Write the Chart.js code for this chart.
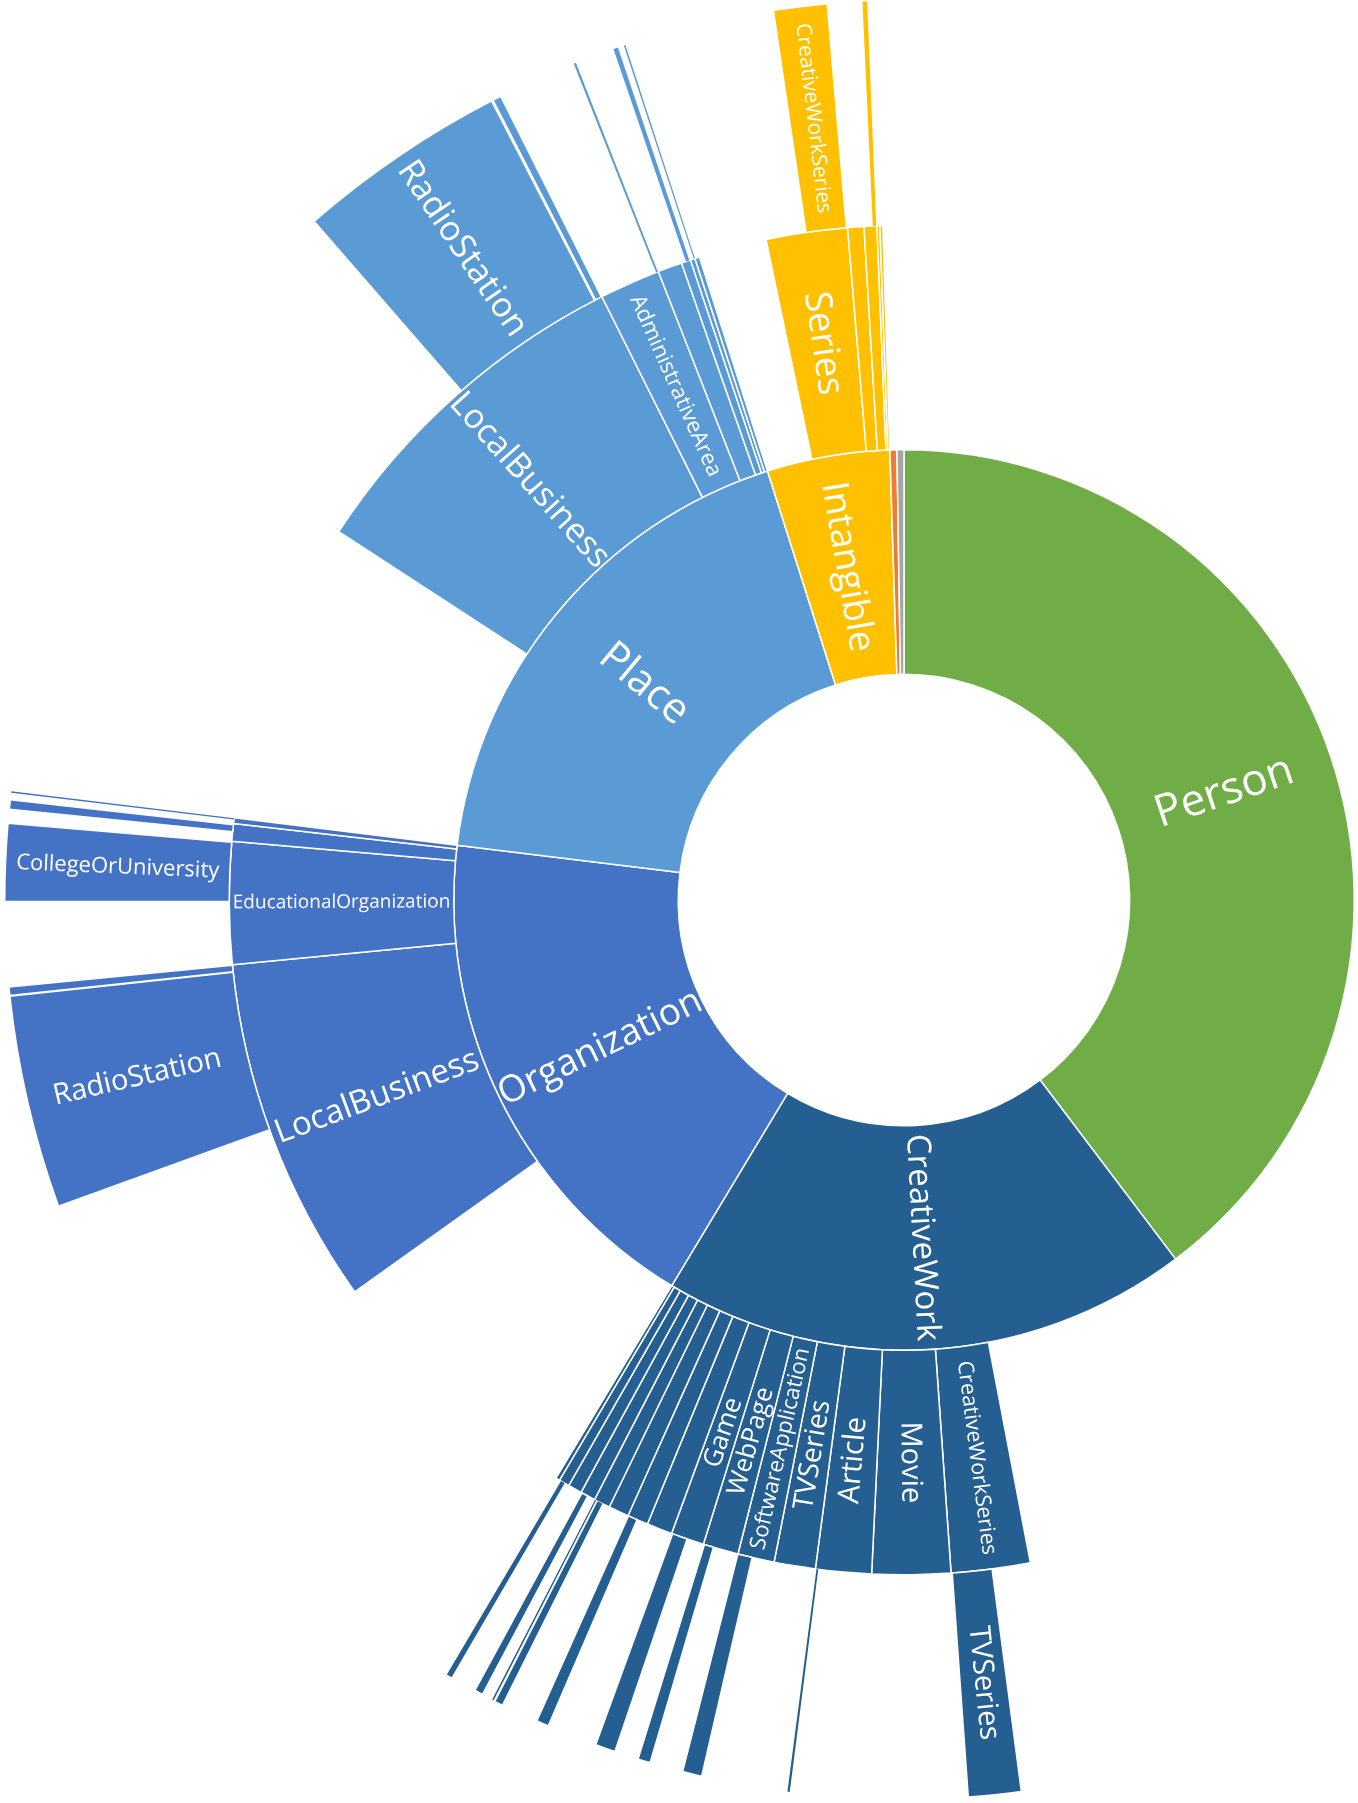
<!DOCTYPE html>
<html>
<head>
<meta charset="utf-8">
<title>Sunburst</title>
<script src="https://cdn.jsdelivr.net/npm/chart.js@4.4.1/dist/chart.umd.min.js"></script>
<style>
  html, body { margin: 0; padding: 0; background: #fff; overflow: hidden; width: 1358px; height: 1803px; }
  #chart { position: absolute; left: 4px; top: 0px; }
</style>
</head>
<body>
<canvas id="chart" width="1800" height="1800"></canvas>
<script>
// Values are the share of the circle each segment takes (read as degrees off the picture).
// null label = no child at this level (left empty), '' = a sliver too thin to carry a name.

// Inner ring
const topLabels = ['Person', 'CreativeWork', 'Organization', 'Place', 'Intangible', 'Other', 'Other'];
const topValues = [142.9, 68.15, 65.95, 65.35, 15.85, 0.9, 0.9];

// Middle ring
const midLabels = [
    null,
    null, 'CreativeWorkSeries', 'Movie', 'Article', 'TVSeries', 'SoftwareApplication', 'WebPage', 'Game', '', '', '', '', '', '', '', '',
    null, 'LocalBusiness', 'EducationalOrganization', '', '',
    null, 'LocalBusiness', 'AdministrativeArea', '', '', '', '',
    null, 'Series', '', '', '', '',
    null, null
];
const midValues = [
    142.9,
    26.3, 6.8, 6.75, 4.8, 3.55, 3.15, 3.05, 2.85, 2.2, 1.8, 1.75, 1.4, 1.3, 1.2, 0.9, 0.35,
    23.45, 30.0, 10.5, 1.5, 0.5,
    26.1, 30.3, 5.25, 2.1, 0.8, 0.4, 0.4,
    5.85, 7.0, 1.4, 1.1, 0.25, 0.25,
    0.9, 0.9
];
const midParents = [
    0,
    1, 1, 1, 1, 1, 1, 1, 1, 1, 1, 1, 1, 1, 1, 1, 1,
    2, 2, 2, 2, 2,
    3, 3, 3, 3, 3, 3, 3,
    4, 4, 4, 4, 4, 4,
    5, 6
];

// Outer ring
const outLabels = [
    null,
    null, 'TVSeries', null, '', null, '', null, '', null, '', null, '', null, '', null, '', null, '', null, '', null,
    null, 'RadioStation', null, '', null, 'CollegeOrUniversity', null, '', null, '', null,
    null, 'RadioStation', null, '', null, '', null, '', null, '', null,
    null, 'CreativeWorkSeries', null, '', null,
    null
];
const outValues = [
    142.9,
    29.6, 3.4, 11.4, 0.15, 5.55, 1.25, 2.15, 0.8, 1.55, 1.3, 3.25, 0.8, 2.45, 0.45, 0.15, 0.1, 0.7, 0.55, 1.7, 0.35, 0.5,
    39.05, 13.75, 0.05, 0.55, 5.45, 5.0, 0.9, 0.6, 0.45, 0.1, 0.05,
    42.0, 13.7, 0.1, 0.55, 5.1, 0.15, 2.55, 0.3, 0.4, 0.1, 0.4,
    9.3, 3.45, 2.25, 0.3, 0.55,
    1.8
];
const outParents = [
    0,
    1, 1, 1, 1, 1, 1, 1, 1, 1, 1, 1, 1, 1, 1, 1, 1, 1, 1, 1, 1, 1,
    2, 2, 2, 2, 2, 2, 2, 2, 2, 2, 2,
    3, 3, 3, 3, 3, 3, 3, 3, 3, 3, 3,
    4, 4, 4, 4, 4,
    5
];

const topColors = ['#70AD47', '#255E91', '#4472C4', '#5B9BD5', '#FFC000', '#ED7D31', '#A5A5A5'];

// Label font sizes (px), keyed by ring | top category | label
const labelFont = {
    '1|Person|Person': 44,
    '1|CreativeWork|CreativeWork': 33,
    '1|Organization|Organization': 37,
    '1|Place|Place': 42,
    '1|Intangible|Intangible': 37,
    '2|CreativeWork|CreativeWorkSeries': 21.5,
    '2|CreativeWork|Movie': 29,
    '2|CreativeWork|Article': 29.5,
    '2|CreativeWork|TVSeries': 28,
    '2|CreativeWork|SoftwareApplication': 22,
    '2|CreativeWork|WebPage': 25.5,
    '2|CreativeWork|Game': 26,
    '2|Organization|LocalBusiness': 33,
    '2|Organization|EducationalOrganization': 19,
    '2|Place|LocalBusiness': 34,
    '2|Place|AdministrativeArea': 22,
    '2|Intangible|Series': 37,
    '3|CreativeWork|TVSeries': 29,
    '3|Organization|RadioStation': 29,
    '3|Organization|CollegeOrUniversity': 22,
    '3|Place|RadioStation': 34.5,
    '3|Intangible|CreativeWorkSeries': 21
};

// Function to build one ring of the sunburst
function ringDataset(ring, labels, values, parents) {
    return {
        data: values,
        segLabels: labels,
        segParents: parents,
        ring: ring,
        backgroundColor: labels.map((l, i) => l === null ? 'rgba(0,0,0,0)' : topColors[parents[i]]),
        borderColor: '#ffffff',
        borderWidth: labels.map((l, i) => (l === null || (ring === 3 && values[i] < 0.5)) ? 0 : 1.5),
        hoverOffset: 0
    };
}

// Plugin that writes the names along the radius of each segment
const sunburstLabels = {
    id: 'sunburstLabels',
    afterDatasetsDraw(chart) {
        const ctx = chart.ctx;
        chart.data.datasets.forEach((ds, di) => {
            const meta = chart.getDatasetMeta(di);
            meta.data.forEach((arc, j) => {
                const text = ds.segLabels[j];
                if (!text) return;
                const size = labelFont[ds.ring + '|' + topLabels[ds.segParents[j]] + '|' + text];
                if (!size) return;
                const mid = (arc.startAngle + arc.endAngle) / 2;
                const r = (arc.innerRadius + arc.outerRadius) / 2;
                let rot = mid;
                if (Math.cos(mid) < -1e-6) rot += Math.PI;
                ctx.save();
                ctx.translate(arc.x + Math.cos(mid) * r, arc.y + Math.sin(mid) * r);
                ctx.rotate(rot);
                ctx.font = size + 'px "Open Sans"';
                ctx.fillStyle = '#ffffff';
                ctx.textAlign = 'center';
                ctx.textBaseline = 'middle';
                ctx.fillText(text, 0, 0);
                ctx.restore();
            });
        });
    }
};

const chart = new Chart(document.getElementById('chart').getContext('2d'), {
    type: 'doughnut',
    data: {
        datasets: [
            ringDataset(3, outLabels, outValues, outParents),
            ringDataset(2, midLabels, midValues, midParents),
            ringDataset(1, topLabels, topValues, topLabels.map((l, i) => i))
        ]
    },
    options: {
        responsive: false,
        devicePixelRatio: 1,
        animation: false,
        cutout: '25.1%',
        layout: { padding: 0 },
        events: [],
        plugins: {
            legend: { display: false },
            tooltip: { enabled: false }
        }
    },
    plugins: [sunburstLabels]
});
</script>
</body>
</html>
